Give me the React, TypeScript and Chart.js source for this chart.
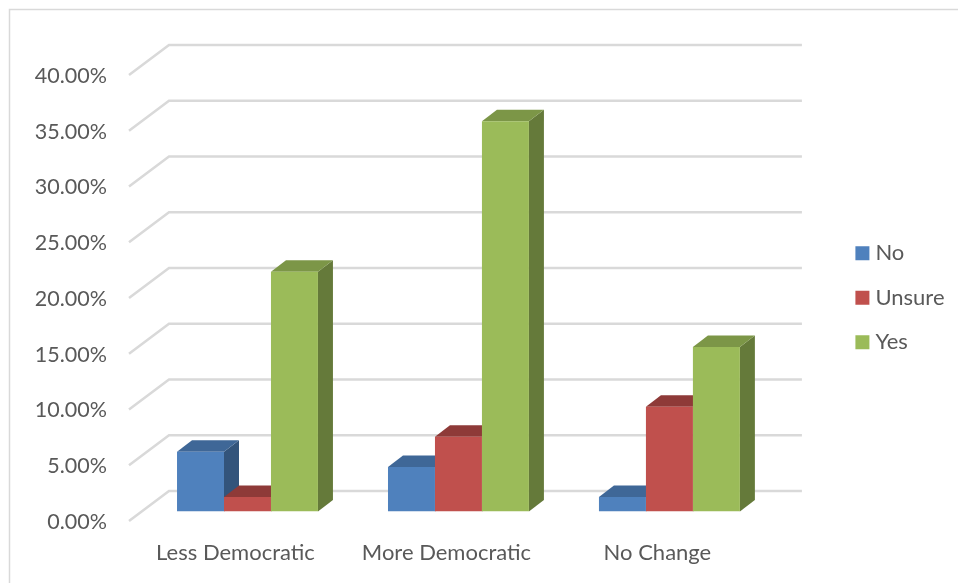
import { useEffect, useRef } from "react";
import { Chart, registerables } from "chart.js";

Chart.register(...registerables);

const categories = ["Less Democratic", "More Democratic", "No Change"];
const noValues = [5.35, 4.0, 1.3];
const unsureValues = [1.3, 6.7, 9.4];
const yesValues = [21.5, 35.0, 14.75];

const FONT = "Lato";
const TEXT = "#595959";
const GRID = "#D9D9D9";

// Oblique offsets of the pseudo-3D box, relative to the plane of the bar fronts.
const BAR_DX = 15;
const BAR_DY = 11.5;
const WALL_BACK_DX = 27;
const WALL_BACK_DY = 20.5;
const WALL_FRONT_DX = 13;
const WALL_FRONT_DY = 9.5;

const seriesShades = [
  { top: "#3F6797", side: "#33547B" },
  { top: "#8E3A38", side: "#7D3331" },
  { top: "#7C9647", side: "#657A3A" },
];

function fillPoly(ctx: CanvasRenderingContext2D, pts: number[][], color: string) {
  ctx.beginPath();
  pts.forEach(([x, y], i) => (i ? ctx.lineTo(x, y) : ctx.moveTo(x, y)));
  ctx.closePath();
  ctx.fillStyle = color;
  ctx.fill();
}

const frame3d = {
  id: "frame3d",
  afterLayout(chart: any) {
    // The legend sits right of and above its layout box.
    chart.legend.left += 63;
    chart.legend.right += 63;
    chart.legend.top -= 26.5;
    chart.legend.bottom -= 26.5;
  },
  beforeDatasetsDraw(chart: any) {
    const { ctx, chartArea, scales } = chart;

    ctx.save();
    // Chart frame: only the top and left edges fall inside the canvas.
    ctx.strokeStyle = "#D9D9D9";
    ctx.lineWidth = 1.5;
    ctx.beginPath();
    ctx.moveTo(9.5, chart.height);
    ctx.lineTo(9.5, 9.5);
    ctx.lineTo(chart.width, 9.5);
    ctx.stroke();

    // Gridlines run along the side wall and then across the back wall.
    ctx.strokeStyle = GRID;
    ctx.lineWidth = 2.5;
    ctx.lineJoin = "miter";
    scales.y.ticks.forEach((tick: any) => {
      const py = scales.y.getPixelForValue(tick.value);
      ctx.beginPath();
      ctx.moveTo(chartArea.left - WALL_FRONT_DX, py + WALL_FRONT_DY);
      ctx.lineTo(chartArea.left + WALL_BACK_DX, py - WALL_BACK_DY);
      ctx.lineTo(chartArea.right + WALL_BACK_DX, py - WALL_BACK_DY);
      ctx.stroke();
    });

    // Side and top faces; the library paints the front faces over them.
    chart.data.datasets.forEach((_: any, di: number) => {
      const shade = seriesShades[di];
      chart.getDatasetMeta(di).data.forEach((bar: any) => {
        const l = bar.x - bar.width / 2;
        const r = bar.x + bar.width / 2;
        fillPoly(ctx, [[r, bar.y], [r + BAR_DX, bar.y - BAR_DY], [r + BAR_DX, bar.base - BAR_DY], [r, bar.base]], shade.side);
        fillPoly(ctx, [[l, bar.y], [l + BAR_DX, bar.y - BAR_DY], [r + BAR_DX, bar.y - BAR_DY], [r, bar.y]], shade.top);
      });
    });
    ctx.restore();
  },
};

export default function App() {
  const ref = useRef<HTMLCanvasElement>(null);

  useEffect(() => {
    const chart = new Chart(ref.current!, {
      type: "bar",
      data: {
        labels: categories,
        datasets: [
          { label: "No", data: noValues, backgroundColor: "#4F81BD" },
          { label: "Unsure", data: unsureValues, backgroundColor: "#C0504D" },
          { label: "Yes", data: yesValues, backgroundColor: "#9BBB59" },
        ],
      },
      options: {
        animation: false,
        responsive: false,
        events: [],
        categoryPercentage: 0.668,
        barPercentage: 1,
        layout: { padding: { left: 0, right: 66.5, top: 65.5, bottom: 0 } },
        plugins: {
          tooltip: { enabled: false },
          legend: {
            position: "right",
            labels: {
              color: TEXT,
              font: { family: FONT, size: 22 },
              boxWidth: 4,
              boxHeight: 4,
              padding: 22.5,
              // A thick stroke around a small box keeps the label close to the swatch.
              generateLabels(c: any) {
                return Chart.defaults.plugins.legend.labels.generateLabels(c).map((item: any) => ({
                  ...item,
                  strokeStyle: item.fillStyle,
                  lineWidth: 10,
                }));
              },
            },
          },
        },
        scales: {
          x: {
            afterFit(scale: any) {
              scale.height = 71.5;
            },
            border: { display: false },
            grid: { display: false, drawTicks: false },
            ticks: {
              color: TEXT,
              font: { family: FONT, size: 22 },
              labelOffset: -12,
              padding: 28,
              maxRotation: 0,
              autoSkip: false,
            },
          },
          y: {
            min: 0,
            max: 40,
            afterFit(scale: any) {
              scale.width = 142;
            },
            border: { display: false },
            grid: { display: false, drawTicks: false },
            ticks: {
              stepSize: 5,
              color: TEXT,
              font: { family: FONT, size: 21.5 },
              labelOffset: 10.5,
              padding: 35,
              callback: (v: any) => Number(v).toFixed(2) + "%",
            },
          },
        },
      },
      plugins: [frame3d],
    } as any);
    return () => chart.destroy();
  }, []);

  return (
    <div style={{ position: "absolute", left: 0, top: 0, width: 958, height: 583, background: "#FFFFFF" }}>
      <canvas ref={ref} width={958} height={583} style={{ display: "block" }} />
    </div>
  );
}
